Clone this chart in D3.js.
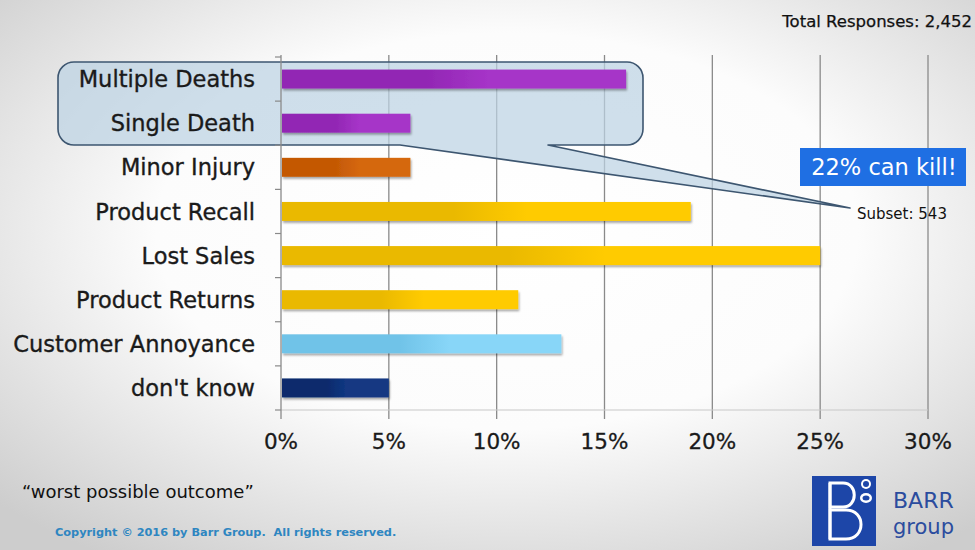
<!DOCTYPE html>
<html><head><meta charset="utf-8">
<script src="https://cdn.jsdelivr.net/npm/d3@7"></script>
<style>html,body{margin:0;padding:0;background:#fff;}svg{display:block;}</style>
</head><body>
<script>
const categories = ["Multiple Deaths","Single Death","Minor Injury","Product Recall","Lost Sales","Product Returns","Customer Annoyance","don't know"];
const values = [16, 6, 6, 19, 25, 11, 13, 5];
const groups = ["death","death","injury","business","business","business","annoy","unknown"];
const tickValues = [0, 5, 10, 15, 20, 25, 30];
const tickLabels = ["0%","5%","10%","15%","20%","25%","30%"];
const totalLabel = "Total Responses: 2,452";
const subsetLabel = "Subset: 543";
const calloutLabel = "22% can kill!";

const W = 975, H = 550;
const FONT = "'DejaVu Sans', 'Noto Sans', sans-serif";
const palette = {
  death:   ["#9227b4", "#a634c8"],
  injury:  ["#c45905", "#d5670e"],
  business:["#eab900", "#ffcb00"],
  annoy:   ["#70c3e8", "#88d6f8"],
  unknown: ["#0b2a6c", "#123882"]
};

const svg = d3.select("body").append("svg").attr("width", W).attr("height", H)
  .style("font-family", FONT);
const defs = svg.append("defs");

const bg = defs.append("radialGradient").attr("id","bg").attr("cx","52%").attr("cy","42%").attr("r","72%");
bg.append("stop").attr("offset","0").attr("stop-color","#ffffff");
bg.append("stop").attr("offset","0.5").attr("stop-color","#fcfcfc");
bg.append("stop").attr("offset","1").attr("stop-color","#cdcdcd");
svg.append("rect").attr("width",W).attr("height",H).attr("fill","url(#bg)");

Object.entries(palette).forEach(([k,[c0,c1]]) => {
  const g = defs.append("linearGradient").attr("id","g-"+k).attr("x1","0").attr("x2","1").attr("y1","0").attr("y2","0");
  g.append("stop").attr("offset","0").attr("stop-color",c0);
  g.append("stop").attr("offset","0.42").attr("stop-color",c0);
  g.append("stop").attr("offset","0.6").attr("stop-color",c1);
  g.append("stop").attr("offset","1").attr("stop-color",c1);
});
const sh = defs.append("filter").attr("id","shadow").attr("x","-5%").attr("y","-30%").attr("width","110%").attr("height","180%");
sh.append("feDropShadow").attr("dx",1).attr("dy",2).attr("stdDeviation",1.2).attr("flood-color","#000").attr("flood-opacity",0.35);

const x = d3.scaleLinear().domain([0, 30]).range([281, 928]);
const y = d3.scaleBand().domain(categories).range([57, 410]).paddingInner(0.57).paddingOuter(0.285);
const step = y.step();

// gridlines
svg.append("g").selectAll("line").data(tickValues.filter(v => v > 0)).join("line")
  .attr("x1", d => x(d)).attr("x2", d => x(d)).attr("y1", 55).attr("y2", 419)
  .attr("stroke", "#8a8a8a").attr("stroke-width", 1.3);
svg.append("line").attr("x1", x(0)).attr("x2", x(30)).attr("y1", 410).attr("y2", 410)
  .attr("stroke", "#c8c8c8").attr("stroke-width", 1);

// callout box with tail
const bx0 = 58, bx1 = 643, by0 = 62, by1 = 145, r = 16;
const tailA = 400, tailB = 548, tip = [850, 208];
const p = d3.path();
p.moveTo(bx0 + r, by0);
p.lineTo(bx1 - r, by0); p.arcTo(bx1, by0, bx1, by0 + r, r);
p.lineTo(bx1, by1 - r); p.arcTo(bx1, by1, bx1 - r, by1, r);
p.lineTo(tailB, by1); p.lineTo(tip[0], tip[1]); p.lineTo(tailA, by1);
p.lineTo(bx0 + r, by1); p.arcTo(bx0, by1, bx0, by1 - r, r);
p.lineTo(bx0, by0 + r); p.arcTo(bx0, by0, bx0 + r, by0, r);
p.closePath();
svg.append("path").attr("d", p.toString()).attr("fill", "#bcd3e3").attr("fill-opacity", 0.72)
  .attr("stroke", "#3d5670").attr("stroke-width", 1.6).attr("stroke-linejoin","round");

// axis line and small ticks
svg.append("line").attr("x1", x(0)).attr("x2", x(0)).attr("y1", 55).attr("y2", 419)
  .attr("stroke", "#8a8a8a").attr("stroke-width", 1.3);
svg.append("g").selectAll("line").data(d3.range(categories.length + 1)).join("line")
  .attr("x1", x(0) - 6).attr("x2", x(0)).attr("y1", i => 57 + i * step).attr("y2", i => 57 + i * step)
  .attr("stroke", "#8a8a8a").attr("stroke-width", 1.2);

// bars
svg.append("g").selectAll("rect").data(categories).join("rect")
  .attr("x", x(0) + 1).attr("y", d => y(d))
  .attr("width", (d, i) => x(values[i]) - x(0) - 1).attr("height", y.bandwidth())
  .attr("fill", (d, i) => `url(#g-${groups[i]})`).attr("filter", "url(#shadow)");

// category labels
svg.append("g").selectAll("text").data(categories).join("text")
  .attr("x", 255).attr("y", d => y(d) + y.bandwidth() / 2).attr("dy", "0.36em")
  .attr("text-anchor", "end").attr("font-size", 22.5).attr("fill", "#1a1a1a")
  .attr("stroke", "#1a1a1a").attr("stroke-width", 0.35).text(d => d);

// tick labels
svg.append("g").selectAll("text").data(tickValues).join("text")
  .attr("x", d => x(d)).attr("y", 449).attr("text-anchor", "middle")
  .attr("font-size", 21.5).attr("fill", "#1a1a1a")
  .attr("stroke", "#1a1a1a").attr("stroke-width", 0.3).text((d, i) => tickLabels[i]);

// top right total
svg.append("text").attr("x", 972).attr("y", 27).attr("text-anchor", "end")
  .attr("font-size", 16.5).attr("fill", "#111").attr("stroke", "#111").attr("stroke-width", 0.25).text(totalLabel);

// blue callout
svg.append("rect").attr("x", 800).attr("y", 148).attr("width", 166).attr("height", 38).attr("fill", "#1f6fe3");
svg.append("text").attr("x", 884).attr("y", 175).attr("text-anchor", "middle")
  .attr("font-size", 22.5).attr("fill", "#fff").text(calloutLabel);

svg.append("text").attr("x", 857).attr("y", 219).attr("font-size", 15).attr("fill", "#111").text(subsetLabel);

// footnotes
svg.append("text").attr("x", 22).attr("y", 498).attr("font-size", 18).attr("fill", "#111")
  .text("\u201Cworst possible outcome\u201D");
svg.append("text").attr("x", 55).attr("y", 536).attr("font-size", 11.3).attr("font-weight", "bold")
  .attr("fill", "#2e86c1").style("white-space","pre").text("Copyright \u00A9 2016 by Barr Group.  All rights reserved.");

// logo
const lg = svg.append("g");
lg.append("rect").attr("x", 812).attr("y", 476).attr("width", 64).attr("height", 70).attr("fill", "#1d46a8");
lg.append("path").attr("d", "M830,483 L843,483 C858,483 858,507 843,507 L830,507 Z").attr("fill", "none").attr("stroke", "#fff").attr("stroke-width", 3);
lg.append("path").attr("d", "M830,510 L846,510 C866,510 866,539 846,539 L830,539 Z").attr("fill", "none").attr("stroke", "#fff").attr("stroke-width", 3);
lg.append("line").attr("x1", 830).attr("x2", 830).attr("y1", 483).attr("y2", 539).attr("stroke", "#fff").attr("stroke-width", 3);
lg.append("circle").attr("cx", 866).attr("cy", 484).attr("r", 5).attr("fill", "#fff");
lg.append("circle").attr("cx", 866).attr("cy", 484).attr("r", 3).attr("fill", "#1d46a8");
lg.append("ellipse").attr("cx", 866).attr("cy", 498).attr("rx", 6).attr("ry", 5).attr("fill", "#fff");
lg.append("ellipse").attr("cx", 866).attr("cy", 498).attr("rx", 3.5).attr("ry", 2.5).attr("fill", "#1d46a8");
svg.append("text").attr("x", 893).attr("y", 508).attr("font-size", 22).attr("fill", "#2b4c9e").text("BARR");
svg.append("text").attr("x", 893).attr("y", 534).attr("font-size", 21).attr("fill", "#2b4c9e").text("group");
</script>
</body></html>
